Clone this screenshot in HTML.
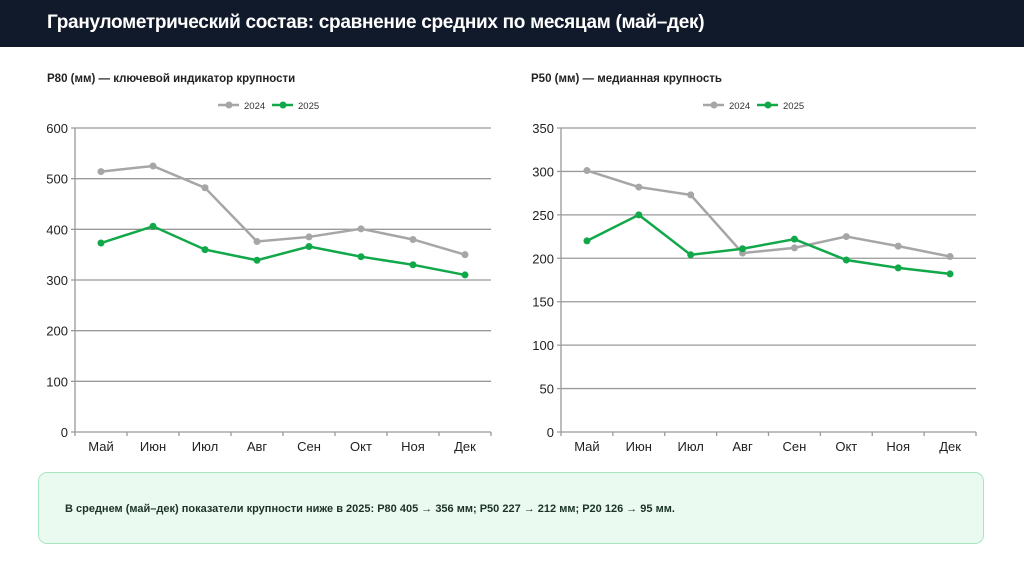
<!DOCTYPE html>
<html><head><meta charset="utf-8"><style>
body{margin:0;width:1024px;height:576px;background:#fff;overflow:hidden;font-family:"Liberation Sans","Noto Sans CJK SC",sans-serif;position:relative}
.hdr{position:absolute;left:0;top:0;width:1024px;height:47px;background:#111a2b}
.hdr span{position:absolute;left:47px;top:12px;color:#fff;font-weight:bold;font-size:19px;letter-spacing:-0.3px}
.box{position:absolute;left:38px;top:472px;width:946px;height:72px;background:#ebfaf1;border:1px solid #a9e6c0;border-radius:9px;box-sizing:border-box}
.box span{position:absolute;left:26px;top:30px;font-size:11px;font-weight:bold;color:#1c3327}
svg{position:absolute;left:0;top:0}
</style></head><body>
<div class="hdr"><span>Гранулометрический состав: сравнение средних по месяцам (май–дек)</span></div>
<svg id="svg" width="1024" height="576"></svg>
<div class="box"><span>В среднем (май–дек) показатели крупности ниже в 2025: P80 405 → 356 мм; P50 227 → 212 мм; P20 126 → 95 мм.</span></div>
<script>
const months=["Май","Июн","Июл","Авг","Сен","Окт","Ноя","Дек"];
const p80_2024=[514,525,482,376,385,401,380,350];
const p80_2025=[373,406,360,339,366,346,330,310];
const p50_2024=[301,282,273,206,212,225,214,202];
const p50_2025=[220,250,204,211,222,198,189,182];
const p80Ticks=[0,100,200,300,400,500,600];
const p50Ticks=[0,50,100,150,200,250,300,350];
const NS="http://www.w3.org/2000/svg";
const svg=document.getElementById('svg');
function mk(t,a,p){const e=document.createElementNS(NS,t);for(const k in a)e.setAttribute(k,a[k]);(p||svg).appendChild(e);return e;}
function chart(cfg){
 const g=mk('g',{});
 
 
 const x0=cfg.x0,x1=cfg.x1,yT=128,yB=432,max=cfg.ticks[cfg.ticks.length-1];
 const y=v=>yB-(v/max)*(yB-yT);
 const bw=(x1-x0)/months.length;
 const x=i=>x0+bw*(i+0.5);
 const t=mk('text',{x:cfg.tx,y:82,'font-size':11.5,'font-weight':'bold',fill:'#222'},g);t.textContent=cfg.title;
 
 
 cfg.ticks.forEach(v=>{
  const l=mk('line',{x1:x0-4,x2:x1,y1:y(v),y2:y(v),stroke:v==0?'#999':'#9a9a9a','stroke-width':1.3},g);
  
  
  const tt=mk('text',{x:x0-7,y:y(v)+5,'text-anchor':'end','font-size':13,fill:'#222'},g);tt.textContent=v;
  
  
 });
 mk('line',{x1:x0,x2:x0,y1:yT,y2:yB,stroke:'#999','stroke-width':1.3},g);
 for(let i=0;i<=months.length;i++)mk('line',{x1:x0+bw*i,x2:x0+bw*i,y1:yB,y2:yB+4,stroke:'#999','stroke-width':1.3},g);
 months.forEach((m,i)=>{const tt=mk('text',{x:x(i),y:yB+19,'text-anchor':'middle','font-size':13,fill:'#222'},g);tt.textContent=m;
  
  });
 [[cfg.a,'#a6a6a6','2024',0],[cfg.b,'#11a84a','2025',1]].forEach(([d,c,n,k])=>{
  const pl=mk('polyline',{points:d.map((v,i)=>x(i)+','+y(v)).join(' '),fill:'none',stroke:c,'stroke-width':2.5},g);
  
  
  d.forEach((v,i)=>{const p=mk('circle',{cx:x(i),cy:y(v),r:3.5,fill:c},g);
   
   });
  const lx=cfg.lx+k*54;
  const lg=mk('g',{},g);
  
  
  mk('line',{x1:lx,x2:lx+21,y1:105,y2:105,stroke:c,'stroke-width':2.5},lg);
  mk('circle',{cx:lx+11,cy:105,r:3.5,fill:c},lg);
  const lt=mk('text',{x:lx+26,y:109,'font-size':9.5,fill:'#333'},lg);lt.textContent=n;
 });
}
chart({name:'p80-chart',title:'P80 (мм) — ключевой индикатор крупности',tx:47,x0:75,x1:491,ticks:p80Ticks,a:p80_2024,b:p80_2025,lx:218});
chart({name:'p50-chart',title:'P50 (мм) — медианная крупность',tx:531,x0:561,x1:976,ticks:p50Ticks,a:p50_2024,b:p50_2025,lx:703});
</script>
</body></html>
